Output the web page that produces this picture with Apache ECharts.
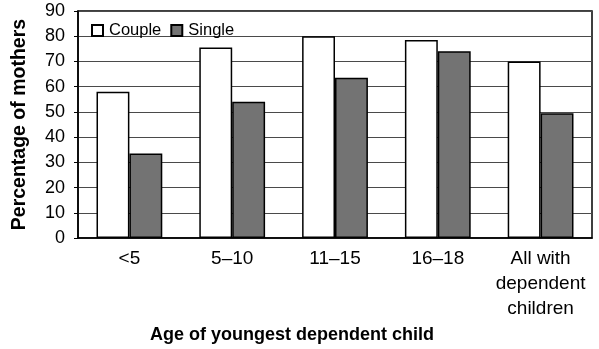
<!DOCTYPE html>
<html>
<head>
<meta charset="utf-8">
<script src="https://cdn.jsdelivr.net/npm/echarts@6/dist/echarts.min.js"></script>
<style>html,body{margin:0;padding:0;background:#fff;}#c{width:599px;height:349px;}</style>
</head>
<body>
<div id="c"></div>
<script>
var categories = ['<5', '5\u201310', '11\u201315', '16\u201318', 'All with\ndependent\nchildren'];
var coupleValues = [58, 75.5, 80, 78.5, 70];
var singleValues = [33.5, 54, 63.5, 74, 49.5];
var yTicks = { min: 0, max: 90, interval: 10 };
var seriesNames = ['Couple', 'Single'];

var FONT = '"Liberation Sans", Arial, sans-serif';
var chart = echarts.init(document.getElementById('c'), null, { renderer: 'canvas' });
chart.setOption({
  animation: false,
  backgroundColor: '#fff',
  grid: {
    left: 78, right: 7, top: 11, bottom: 109,
    show: true, borderColor: '#000', borderWidth: 1.5, backgroundColor: 'transparent'
  },
  legend: {
    left: 86, top: 17,
    itemWidth: 11, itemHeight: 11, itemGap: 9,
    icon: 'rect',
    textStyle: { fontFamily: FONT, fontSize: 16.5, color: '#000', padding: [0, 0, 0, 1] },
    data: seriesNames
  },
  xAxis: {
    type: 'category',
    data: categories,
    axisLine: { lineStyle: { color: '#000', width: 1.5 } },
    axisTick: { show: false },
    axisLabel: { fontFamily: FONT, fontSize: 19, color: '#000', margin: 8, lineHeight: 25, interval: 0 },
    name: 'Age of youngest dependent child',
    nameLocation: 'middle',
    nameGap: 84,
    nameTextStyle: { fontFamily: FONT, fontSize: 18, fontWeight: 'bold', color: '#000', padding: [0, 86, 0, 0] }
  },
  yAxis: {
    type: 'value',
    min: yTicks.min, max: yTicks.max, interval: yTicks.interval,
    axisLine: { show: true, lineStyle: { color: '#000', width: 1.5 } },
    axisTick: { show: true, length: 4, lineStyle: { color: '#000', width: 1 } },
    axisLabel: { fontFamily: FONT, fontSize: 18, color: '#000', margin: 13 },
    splitLine: { show: true, lineStyle: { color: '#4a4a4a', width: 1 } },
    name: 'Percentage of mothers',
    nameLocation: 'middle',
    nameGap: 48,
    nameTextStyle: { fontFamily: FONT, fontSize: 19.5, fontWeight: 'bold', color: '#000' }
  },
  series: [
    {
      name: seriesNames[0], type: 'bar', data: coupleValues,
      barGap: '0%', barCategoryGap: '36%',
      itemStyle: { color: '#fff', borderColor: '#000', borderWidth: 1.5 }
    },
    {
      name: seriesNames[1], type: 'bar', data: singleValues,
      barGap: '0%', barCategoryGap: '36%',
      itemStyle: { color: '#737373', borderColor: '#000', borderWidth: 1.5 }
    }
  ]
});
</script>
</body>
</html>
